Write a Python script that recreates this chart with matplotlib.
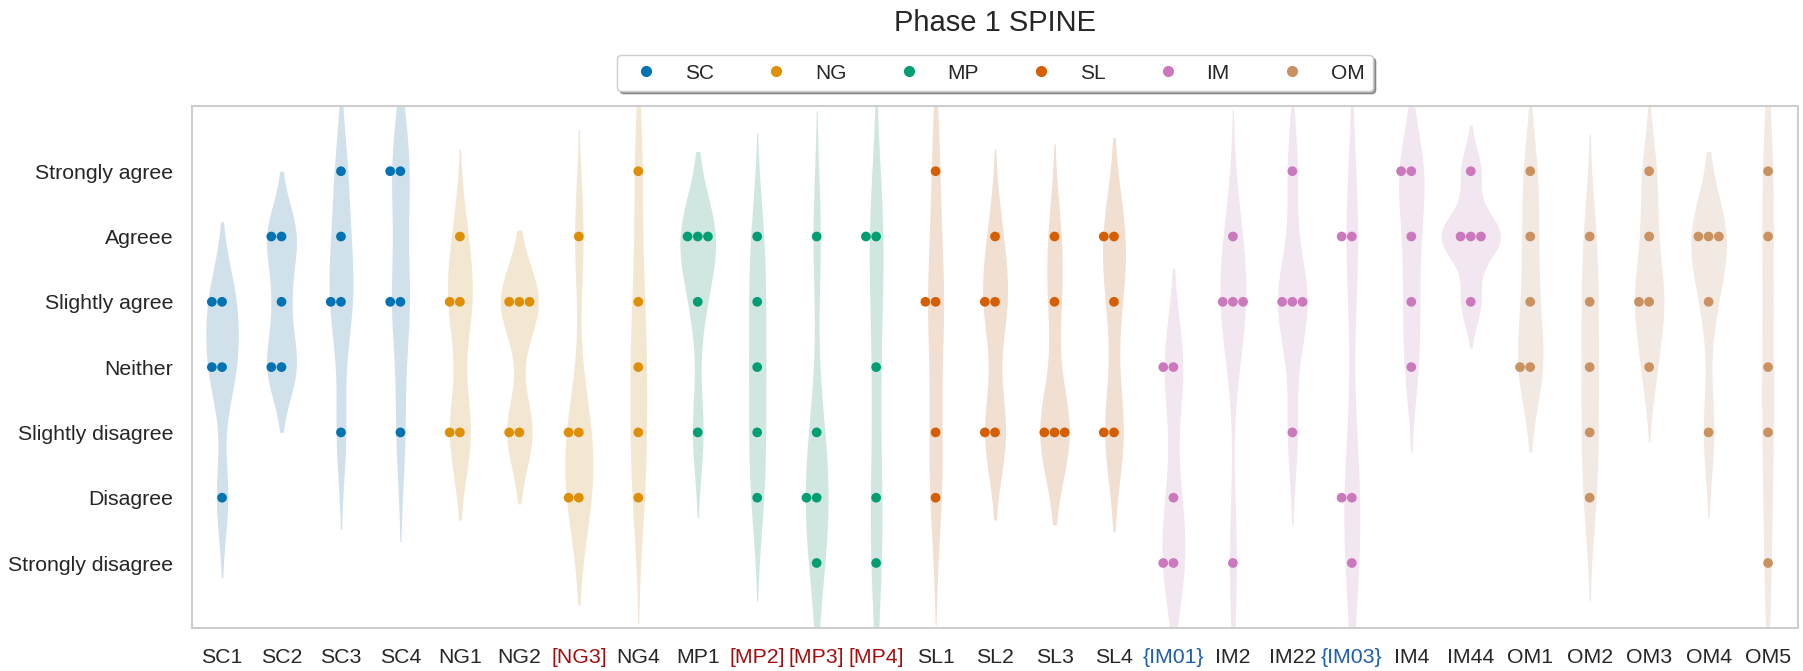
import matplotlib
matplotlib.use("Agg")
import matplotlib.pyplot as plt
from matplotlib.lines import Line2D
import pandas as pd
import seaborn as sns

# Likert scale (1 = Strongly disagree ... 7 = Strongly agree)
levels = ["Strongly disagree", "Disagree", "Slightly disagree", "Neither",
          "Slightly agree", "Agreee", "Strongly agree"]

groups = ["SC", "NG", "MP", "SL", "IM", "OM"]
palette = ["#0173b2", "#de8f05", "#029e73", "#d55e00", "#cc78bc", "#ca9161"]

# Question labels per group (brackets mark reversed / special items)
sc_questions = ["SC1", "SC2", "SC3", "SC4"]
ng_questions = ["NG1", "NG2", "[NG3]", "NG4"]
mp_questions = ["MP1", "[MP2]", "[MP3]", "[MP4]"]
sl_questions = ["SL1", "SL2", "SL3", "SL4"]
im_questions = ["{IM01}", "IM2", "IM22", "{IM03}", "IM4", "IM44"]
om_questions = ["OM1", "OM2", "OM3", "OM4", "OM5"]

# Responses (five participants per question)
sc_responses = [[5, 5, 4, 4, 2], [6, 6, 5, 4, 4], [7, 6, 5, 5, 3], [7, 7, 5, 5, 3]]
ng_responses = [[6, 5, 5, 3, 3], [5, 5, 5, 3, 3], [6, 3, 3, 2, 2], [7, 5, 4, 3, 2]]
mp_responses = [[6, 6, 6, 5, 3], [6, 5, 4, 3, 2], [6, 3, 2, 2, 1], [6, 6, 4, 2, 1]]
sl_responses = [[7, 5, 5, 3, 2], [6, 5, 5, 3, 3], [6, 5, 3, 3, 3], [6, 6, 5, 3, 3]]
im_responses = [[4, 4, 2, 1, 1], [6, 5, 5, 5, 1], [7, 5, 5, 5, 3],
                [6, 6, 2, 2, 1], [7, 7, 6, 5, 4], [7, 6, 6, 6, 5]]
om_responses = [[7, 6, 5, 4, 4], [6, 5, 4, 3, 2], [7, 6, 5, 5, 4],
                [6, 6, 6, 5, 3], [7, 6, 4, 3, 1]]

red_labels = ["[NG3]", "[MP2]", "[MP3]", "[MP4]"]
blue_labels = ["{IM01}", "{IM03}"]

# Long-form table
rows = []
for grp, qs, resp in zip(groups,
                         [sc_questions, ng_questions, mp_questions,
                          sl_questions, im_questions, om_questions],
                         [sc_responses, ng_responses, mp_responses,
                          sl_responses, im_responses, om_responses]):
    for q, vals in zip(qs, resp):
        for v in vals:
            rows.append({"question": q, "group": grp, "response": v})
df = pd.DataFrame(rows)
questions = list(dict.fromkeys(df["question"]))

sns.set_theme(style="white")
plt.rcParams["font.family"] = ["Liberation Sans", "DejaVu Sans"]

W, H = 1803, 671
fig = plt.figure(figsize=(W / 100 + 0.001, H / 100 + 0.001), dpi=100)
ax_l, ax_r, ax_t, ax_b = 192.3, 1797.7, 106.0, 628.3
ax = fig.add_axes([ax_l / W, 1 - ax_b / H, (ax_r - ax_l) / W, (ax_b - ax_t) / H])

sns.violinplot(data=df, x="question", y="response", hue="group",
               order=questions, hue_order=groups, palette=palette,
               inner=None, linewidth=0, cut=2, width=1.0, dodge=False,
               bw_method=0.5, density_norm="area", common_norm=True,
               legend=False, ax=ax)
for coll in ax.collections:
    coll.set_alpha(0.2)

sns.swarmplot(data=df, x="question", y="response", hue="group",
              order=questions, hue_order=groups, palette=palette,
              size=7, dodge=False, legend=False, ax=ax)

ax.set_xlim(-0.5, len(questions) - 0.5)
ax.set_ylim(0, 8)
ax.set_yticks(range(1, 8))
ax.set_yticklabels(levels)
ax.set_xlabel("")
ax.set_ylabel("")
ax.tick_params(axis="both", length=0, pad=13.8, labelsize=15.3, labelcolor=".15")
for lbl in ax.get_xticklabels():
    t = lbl.get_text()
    if t in red_labels:
        lbl.set_color("#a50d0d")
    elif t in blue_labels:
        lbl.set_color("#1f5ea8")

for sp in ax.spines.values():
    sp.set_visible(True)
    sp.set_color(".8")
    sp.set_linewidth(1.4)

handles = [Line2D([], [], marker="o", linestyle="", color=c, markersize=7)
           for c in palette]
leg = ax.legend(handles, groups, loc="lower center",
                bbox_to_anchor=(0.5, 1 + 15 / (ax_b - ax_t)), ncol=6,
                fontsize=15, frameon=True, fancybox=True, shadow=True,
                handletextpad=0.85, columnspacing=2.0, borderaxespad=0)
leg.get_frame().set_edgecolor(".8")
leg.get_frame().set_facecolor("white")
leg.get_frame().set_alpha(1)
for t in leg.get_texts():
    t.set_color(".15")

fig.text((ax_l + ax_r) / 2 / W, 1 - 30.7 / H, "Phase 1 SPINE",
         ha="center", va="baseline", fontsize=21, color=".15")

fig.savefig("out.png", dpi=100)
